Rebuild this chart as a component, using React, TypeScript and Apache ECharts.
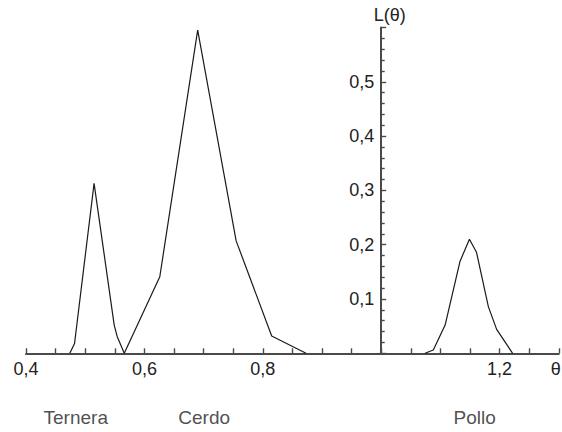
import React, { useEffect, useRef } from "react";
import * as echarts from "echarts";

// Likelihood curves L(θ)
const thetaTernera = [0.474, 0.482, 0.515, 0.549, 0.554, 0.566];
const lTernera = [0, 0.018, 0.313, 0.052, 0.031, 0];

const thetaCerdo = [0.566, 0.626, 0.69, 0.755, 0.815, 0.873];
const lCerdo = [0, 0.141, 0.595, 0.207, 0.032, 0];

const thetaPollo = [1.074, 1.088, 1.108, 1.133, 1.149, 1.161, 1.181, 1.195, 1.222];
const lPollo = [0, 0.006, 0.052, 0.169, 0.21, 0.186, 0.086, 0.044, 0];

// Category captions under the axis, positioned by θ
const categoryNames = ["Ternera", "Cerdo", "Pollo"];
const categoryTheta = [0.484, 0.701, 1.158];

// Axis setup
const xMin = 0.4;
const xMax = 1.3;
const xStep = 0.05;
const yAxisCross = 1.0;
const yMin = 0;
const yMax = 0.6;
const yStep = 0.1;

const FONT = "'Liberation Sans', Arial, Helvetica, sans-serif";
const AXIS_COLOR = "#4a4a4a";
const TEXT_COLOR = "#222222";

const W = 562;
const H = 432;
const GRID_LEFT = 26;
const GRID_RIGHT = 3.2;
const GRID_TOP = 27.5;
const GRID_BOTTOM = 78.7;

function zip(xs: number[], ys: number[]) {
  return xs.map((x, i) => [x, ys[i]]);
}

export default function App() {
  const ref = useRef<HTMLDivElement>(null);

  useEffect(() => {
    if (!ref.current) return;
    const chart = echarts.init(ref.current, undefined, { renderer: "svg" });
    const gridWidth = W - GRID_LEFT - GRID_RIGHT;
    const yOffset = -((yAxisCross - xMin) / (xMax - xMin)) * gridWidth;

    const lineSeries = (name: string, xs: number[], ys: number[]) => ({
      name,
      type: "line",
      data: zip(xs, ys),
      showSymbol: false,
      symbol: "none",
      lineStyle: { color: "#1a1a1a", width: 1.2 },
      clip: false,
      z: 3,
    });

    chart.setOption({
      animation: false,
      backgroundColor: "#ffffff",
      textStyle: { fontFamily: FONT },
      grid: {
        left: GRID_LEFT,
        right: GRID_RIGHT,
        top: GRID_TOP,
        bottom: GRID_BOTTOM,
        containLabel: false,
        outerBoundsMode: "none",
      },
      xAxis: {
        type: "value",
        min: xMin,
        max: xMax,
        interval: xStep,
        axisLine: { show: true, onZero: false, lineStyle: { color: AXIS_COLOR, width: 2 } },
        axisTick: { show: true, inside: true, length: 5, lineStyle: { color: AXIS_COLOR, width: 1.4 } },
        splitLine: { show: false },
        axisLabel: {
          show: true,
          showMinLabel: true,
          showMaxLabel: true,
          hideOverlap: false,
          margin: 7,
          color: TEXT_COLOR,
          fontSize: 18,
          fontFamily: FONT,
          formatter: (v: number) => {
            const r = Math.round(v * 100);
            if (r === 130) return "{t|θ}";
            if (r % 20 === 0 && r !== 100) return (r / 100).toFixed(1).replace(".", ",");
            return "";
          },
          rich: {
            t: { fontSize: 18, fontFamily: FONT, color: TEXT_COLOR, padding: [0, 6, 0, 0] },
          },
        },
      },
      yAxis: {
        type: "value",
        min: yMin,
        max: yMax,
        interval: yStep,
        position: "left",
        offset: yOffset,
        name: "L(θ)",
        nameLocation: "end",
        nameGap: 4,
        nameTextStyle: {
          color: TEXT_COLOR,
          fontSize: 18,
          fontFamily: FONT,
          padding: [0, 0, 0, 17],
        },
        axisLine: { show: true, onZero: false, lineStyle: { color: AXIS_COLOR, width: 2 } },
        axisTick: { show: true, inside: true, length: 5, lineStyle: { color: AXIS_COLOR, width: 1.4 } },
        minorTick: { show: true, splitNumber: 5, length: 3.5, lineStyle: { color: AXIS_COLOR, width: 1.4 } },
        splitLine: { show: false },
        minorSplitLine: { show: false },
        axisLabel: {
          show: true,
          margin: 7,
          color: TEXT_COLOR,
          fontSize: 18,
          fontFamily: FONT,
          formatter: (v: number) => {
            const r = Math.round(v * 10);
            if (r === 0 || r === 6) return "";
            return "0," + r;
          },
        },
      },
      series: [
        lineSeries("Ternera", thetaTernera, lTernera),
        lineSeries("Cerdo", thetaCerdo, lCerdo),
        lineSeries("Pollo", thetaPollo, lPollo),
        {
          name: "captions",
          type: "scatter",
          symbolSize: 0,
          silent: true,
          data: categoryTheta.map((t, i) => ({ value: [t, 0], name: categoryNames[i] })),
          label: {
            show: true,
            position: "bottom",
            distance: 55,
            formatter: (p: any) => p.name,
            color: TEXT_COLOR,
            fontSize: 19,
            fontFamily: FONT,
          },
          clip: false,
          z: 4,
        },
      ],
    });

    return () => {
      chart.dispose();
    };
  }, []);

  return (
    <div
      ref={ref}
      style={{ position: "fixed", left: 0, top: 0, width: W, height: H, background: "#fff" }}
    />
  );
}
